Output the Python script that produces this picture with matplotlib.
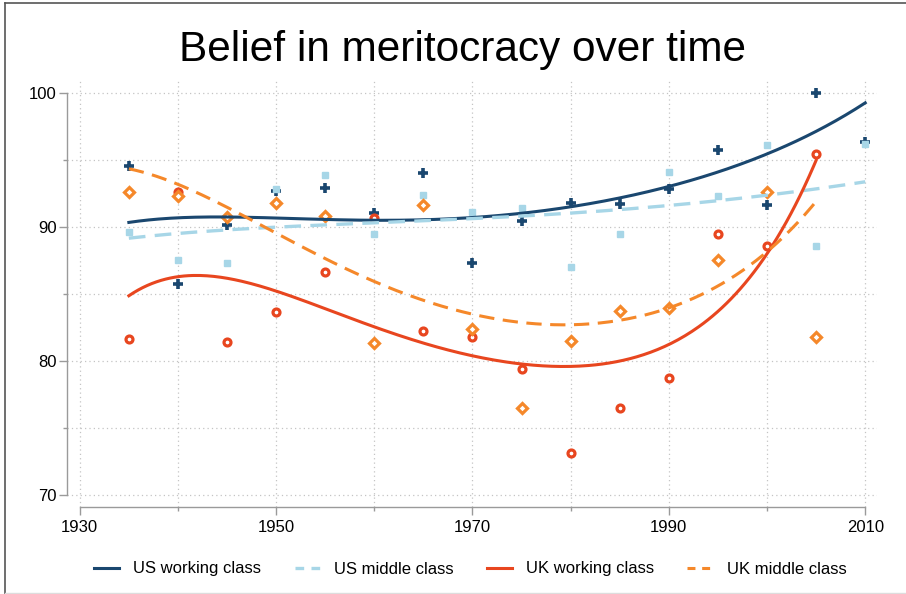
import numpy as np
import matplotlib.pyplot as plt
from matplotlib.lines import Line2D
from matplotlib.ticker import FixedLocator

plt.rcParams['font.family'] = ['Liberation Sans', 'DejaVu Sans']

years = [1935, 1940, 1945, 1950, 1955, 1960, 1965, 1970,
         1975, 1980, 1985, 1990, 1995, 2000, 2005, 2010]
years_uk = years[:-1]

# survey points
us_working = [94.5, 85.7, 90.1, 92.7, 92.9, 91.0, 94.05, 87.3,
              90.4, 91.8, 91.7, 92.85, 95.7, 91.65, 100.0, 96.35]
us_middle = [89.6, 87.5, 87.3, 92.8, 93.85, 89.5, 92.4, 91.1,
             91.4, 87.0, 89.45, 94.1, 92.3, 96.1, 88.55, 96.2]
uk_working = [81.6, 92.6, 81.4, 83.65, 86.65, 90.65, 82.2, 81.8,
              79.4, 73.1, 76.45, 78.7, 89.5, 88.55, 95.45]
uk_middle = [92.6, 92.3, 90.75, 91.8, 90.8, 81.35, 91.65, 82.4,
             76.45, 81.45, 83.75, 83.95, 87.5, 92.6, 81.8]

# fitted trend values
us_working_fit = [90.3, 90.7, 90.78, 90.65, 90.5, 90.43, 90.5, 90.73,
                  91.1, 91.6, 92.03, 92.92, 94.1, 95.45, 97.2, 99.2]
us_middle_fit = [89.16, 89.48, 89.78, 89.98, 90.15, 90.3, 90.43, 90.6,
                 90.8, 91.03, 91.3, 91.6, 91.92, 92.35, 92.85, 93.35]
uk_working_fit = [84.92, 86.1, 86.24, 85.3, 83.9, 82.5, 81.3, 80.3,
                  79.76, 79.63, 80.13, 81.25, 83.37, 88.23, 94.91]
uk_middle_fit = [94.3, 93.22, 91.48, 89.48, 87.6, 85.9, 84.54, 83.54,
                 82.87, 82.67, 83.0, 83.95, 85.54, 88.23, 91.86]

labels = ["US working class", "US middle class", "UK working class", "UK middle class"]

navy = "#1a476f"
light_blue = "#a7d6e7"
red = "#e8461f"
orange = "#f5882a"
dash = (0, (5, 2.8))


def smooth(x, y, deg=5):
    x = np.array(x, dtype=float)
    c = np.polyfit(x - 1970, y, deg)
    xs = np.linspace(x.min(), x.max(), 300)
    return xs, np.polyval(c, xs - 1970)


fig = plt.figure(figsize=(9.06, 5.94), dpi=100)
ax = fig.add_axes([67 / 906, 1 - 507 / 594, 810 / 906, 427 / 594])

ax.plot(years, us_working, linestyle="none", marker="+", ms=7, mew=2.6, color=navy)
ax.plot(years, us_middle, linestyle="none", marker="s", ms=4.2, color=light_blue)
ax.plot(years_uk, uk_working, linestyle="none", marker="o", ms=5, mew=2.3,
        mec=red, mfc="white")
ax.plot(years_uk, uk_middle, linestyle="none", marker="D", ms=4.8, mew=2.3,
        mec=orange, mfc="white")

ax.plot(*smooth(years, us_working_fit), color=navy, lw=2.2, label=labels[0])
ax.plot(*smooth(years, us_middle_fit), color=light_blue, lw=2.4, ls=dash, label=labels[1])
ax.plot(*smooth(years_uk, uk_working_fit), color=red, lw=2.2, label=labels[2])
ax.plot(*smooth(years_uk, uk_middle_fit), color=orange, lw=2.2, ls=dash, label=labels[3])

ax.set_xlim(1928.7, 2011.2)
ax.set_ylim(69.1, 100.95)
ax.xaxis.set_major_locator(FixedLocator([1930, 1950, 1970, 1990, 2010]))
ax.xaxis.set_minor_locator(FixedLocator([1940, 1960, 1980, 2000]))
ax.yaxis.set_major_locator(FixedLocator([70, 80, 90, 100]))
ax.yaxis.set_minor_locator(FixedLocator([75, 85, 95]))
ax.grid(True, which="both", color="#c4c4c4", ls=(0, (1, 2.5)), lw=0.9)

for s in ["top", "right"]:
    ax.spines[s].set_visible(False)
ax.spines["left"].set_bounds(70, 100)
ax.spines["bottom"].set_bounds(1930, 2010)
for s in ["left", "bottom"]:
    ax.spines[s].set_color("#9a9a9a")
    ax.spines[s].set_linewidth(1.0)

ax.tick_params(which="major", length=6, width=1.0, color="#9a9a9a", labelsize=12)
ax.tick_params(which="minor", length=3, width=1.0, color="#9a9a9a")
ax.tick_params(axis="y", pad=1.5)
ax.tick_params(axis="x", pad=3.5)

fig.text(0.51, 0.915, "Belief in meritocracy over time", ha="center", va="center",
         fontsize=30.5)

leg = fig.legend(loc="center", bbox_to_anchor=(0.519, 1 - 569 / 594), ncol=4,
                 frameon=False, fontsize=12, handlelength=1.5, handletextpad=0.85,
                 columnspacing=2.0)
for h in leg.get_lines()[1::2]:
    h.set_linestyle((0, (2.6, 2.2)))

fig.add_artist(Line2D([5 / 906, 5 / 906], [0, 1 - 3 / 594], color="#555555", lw=1.2))
fig.add_artist(Line2D([5 / 906, 1], [1 - 3 / 594, 1 - 3 / 594], color="#555555", lw=1.2))
fig.add_artist(Line2D([5 / 906, 1], [1.5 / 594, 1.5 / 594], color="#dddddd", lw=1.0))

fig.savefig("out.png", dpi=100)
